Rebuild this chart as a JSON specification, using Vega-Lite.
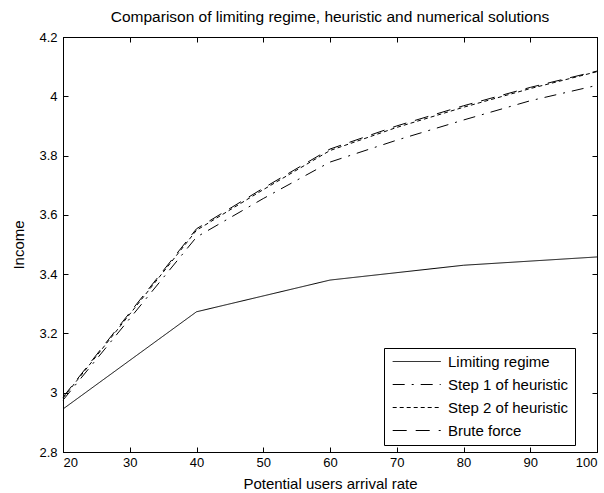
{
  "$schema": "https://vega.github.io/schema/vega-lite/v6.json",
  "width": 534,
  "height": 415,
  "autosize": {"type": "none"},
  "padding": {"left": 63, "top": 37, "right": 7, "bottom": 41},
  "background": "white",
  "config": {
    "font": "Liberation Sans",
    "view": {"stroke": "black", "strokeWidth": 1},
    "axis": {
      "domainColor": "black",
      "domainWidth": 1,
      "tickColor": "black",
      "tickWidth": 1,
      "tickSize": -5,
      "labelColor": "black",
      "labelFont": "Liberation Sans",
      "labelFontSize": 13,
      "titleFont": "Liberation Sans",
      "titleFontSize": 15,
      "titleFontWeight": "normal",
      "titleColor": "black",
      "grid": false
    }
  },
  "title": {
    "text": "Comparison of limiting regime, heuristic and numerical solutions",
    "fontSize": 15.5,
    "fontWeight": "normal",
    "font": "Liberation Sans",
    "color": "black",
    "offset": 6,
    "anchor": "middle"
  },
  "data": {
    "values": [
      {"x": 20, "income": 2.945, "series": "Limiting regime"},
      {"x": 40, "income": 3.273, "series": "Limiting regime"},
      {"x": 60, "income": 3.38, "series": "Limiting regime"},
      {"x": 80, "income": 3.43, "series": "Limiting regime"},
      {"x": 100, "income": 3.458, "series": "Limiting regime"},
      {"x": 20, "income": 2.975, "series": "Step 1 of heuristic"},
      {"x": 30, "income": 3.25, "series": "Step 1 of heuristic"},
      {"x": 40, "income": 3.525, "series": "Step 1 of heuristic"},
      {"x": 50, "income": 3.655, "series": "Step 1 of heuristic"},
      {"x": 60, "income": 3.778, "series": "Step 1 of heuristic"},
      {"x": 70, "income": 3.852, "series": "Step 1 of heuristic"},
      {"x": 80, "income": 3.92, "series": "Step 1 of heuristic"},
      {"x": 90, "income": 3.985, "series": "Step 1 of heuristic"},
      {"x": 100, "income": 4.037, "series": "Step 1 of heuristic"},
      {"x": 20, "income": 2.982, "series": "Step 2 of heuristic"},
      {"x": 30, "income": 3.265, "series": "Step 2 of heuristic"},
      {"x": 40, "income": 3.548, "series": "Step 2 of heuristic"},
      {"x": 50, "income": 3.685, "series": "Step 2 of heuristic"},
      {"x": 60, "income": 3.817, "series": "Step 2 of heuristic"},
      {"x": 70, "income": 3.895, "series": "Step 2 of heuristic"},
      {"x": 80, "income": 3.963, "series": "Step 2 of heuristic"},
      {"x": 90, "income": 4.026, "series": "Step 2 of heuristic"},
      {"x": 100, "income": 4.083, "series": "Step 2 of heuristic"},
      {"x": 20, "income": 2.985, "series": "Brute force"},
      {"x": 30, "income": 3.27, "series": "Brute force"},
      {"x": 40, "income": 3.553, "series": "Brute force"},
      {"x": 50, "income": 3.69, "series": "Brute force"},
      {"x": 60, "income": 3.822, "series": "Brute force"},
      {"x": 70, "income": 3.9, "series": "Brute force"},
      {"x": 80, "income": 3.968, "series": "Brute force"},
      {"x": 90, "income": 4.03, "series": "Brute force"},
      {"x": 100, "income": 4.085, "series": "Brute force"}
    ]
  },
  "layer": [
    {
      "mark": {"type": "line", "color": "black", "strokeWidth": 1},
      "encoding": {
        "x": {
          "field": "x",
          "type": "quantitative",
          "scale": {"domain": [20, 100], "nice": false, "zero": false},
          "axis": {
            "orient": "bottom",
            "title": "Potential users arrival rate",
            "values": [20, 30, 40, 50, 60, 70, 80, 90, 100],
            "labelPadding": 9,
            "titlePadding": 7
          }
        },
        "y": {
          "field": "income",
          "type": "quantitative",
          "scale": {"domain": [2.8, 4.2], "nice": false, "zero": false},
          "axis": {
            "orient": "left",
            "title": "Income",
            "values": [2.8, 3, 3.2, 3.4, 3.6, 3.8, 4, 4.2],
            "format": "~g",
            "labelPadding": 11,
            "titlePadding": 12
          }
        },
        "strokeDash": {
          "field": "series",
          "type": "nominal",
          "scale": {
            "domain": ["Limiting regime", "Step 1 of heuristic", "Step 2 of heuristic", "Brute force"],
            "range": [[1, 0], [12, 7, 2, 7], [4, 3], [14, 9]]
          },
          "legend": {
            "title": null,
            "orient": "none",
            "legendX": 321,
            "legendY": 311,
            "symbolType": "M-1,0H9",
            "symbolSize": 92.16,
            "symbolStrokeWidth": 1,
            "symbolStrokeColor": "black",
            "symbolFillColor": "transparent",
            "labelFontSize": 15,
            "labelColor": "black",
            "labelFont": "Liberation Sans",
            "labelOffset": 43,
            "labelExpr": "datum.label + '\u00a0\u00a0\u00a0\u00a0'",
            "rowPadding": 7,
            "padding": 6,
            "strokeColor": "black",
            "fillColor": "white"
          }
        }
      }
    },
    {
      "mark": {"type": "point", "opacity": 0},
      "encoding": {
        "x": {
          "field": "x",
          "type": "quantitative",
          "axis": {"orient": "top", "title": null, "labels": false, "values": [20, 30, 40, 50, 60, 70, 80, 90, 100]}
        },
        "y": {
          "field": "income",
          "type": "quantitative",
          "axis": {"orient": "right", "title": null, "labels": false, "values": [2.8, 3, 3.2, 3.4, 3.6, 3.8, 4, 4.2]}
        }
      }
    }
  ],
  "resolve": {"axis": {"x": "independent", "y": "independent"}}
}
